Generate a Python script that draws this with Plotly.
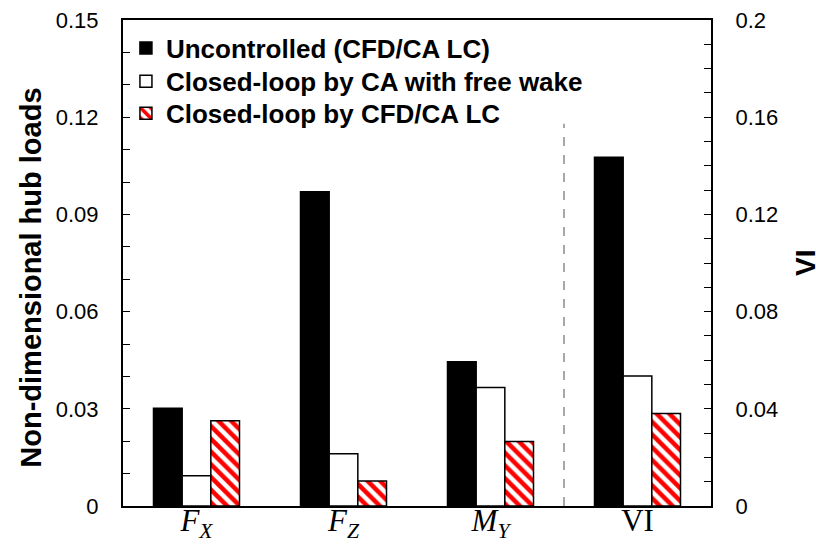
import plotly.graph_objects as go

# Hub-load components (left axis) and vibration index (right axis)
load_labels = ["<i>F</i><sub><i>X</i></sub>", "<i>F</i><sub><i>Z</i></sub>", "<i>M</i><sub><i>Y</i></sub>"]
vi_label = ["VI"]

series_names = [
    "Uncontrolled (CFD/CA LC)",
    "Closed-loop by CA with free wake",
    "Closed-loop by CFD/CA LC",
]
uncontrolled_loads = [0.0302, 0.0970, 0.0445]
ca_free_wake_loads = [0.0093, 0.0161, 0.0366]
cfd_ca_lc_loads = [0.0263, 0.0077, 0.0199]

uncontrolled_vi = [0.1435]
ca_free_wake_vi = [0.0535]
cfd_ca_lc_vi = [0.0381]

left_ticks = [0, 0.03, 0.06, 0.09, 0.12, 0.15]
left_ticktext = ["0", "0.03", "0.06", "0.09", "0.12", "0.15"]
right_ticks = [0, 0.04, 0.08, 0.12, 0.16, 0.2]
right_ticktext = ["0", "0.04", "0.08", "0.12", "0.16", "0.2"]

x_loads = list(range(len(load_labels)))
x_vi = [len(load_labels)]
all_ticktext = load_labels + vi_label

BAR_W = 0.195
offsets = [-1.5 * BAR_W, -0.5 * BAR_W, 0.5 * BAR_W]

styles = [
    dict(color="black", line=dict(color="black", width=1.5)),
    dict(color="white", line=dict(color="black", width=1.5)),
    dict(color="white", line=dict(color="black", width=1.5),
         pattern=dict(shape="\\", fgcolor="#ff0000", bgcolor="white",
                      size=9, solidity=0.5, fillmode="replace")),
]

# one legend box per series so the rows can be spaced tightly
legend_ids = ["legend", "legend2", "legend3"]
legend_rows_y = [0.942, 0.874, 0.808]

fig = go.Figure()
load_sets = [uncontrolled_loads, ca_free_wake_loads, cfd_ca_lc_loads]
vi_sets = [uncontrolled_vi, ca_free_wake_vi, cfd_ca_lc_vi]
for i, name in enumerate(series_names):
    fig.add_trace(go.Bar(
        x=x_loads, y=load_sets[i], name=name, width=BAR_W, offset=offsets[i],
        marker=styles[i], legendgroup=f"g{i}", legend=legend_ids[i], yaxis="y",
    ))
    fig.add_trace(go.Bar(
        x=x_vi, y=vi_sets[i], name=name, width=BAR_W, offset=offsets[i],
        marker=styles[i], legendgroup=f"g{i}", legend=legend_ids[i],
        showlegend=False, yaxis="y2",
    ))

# Separator between hub loads and VI
fig.add_shape(type="line", xref="x", yref="y", x0=2.5, x1=2.5, y0=0, y1=0.118,
              line=dict(color="#8c8c8c", width=1.5, dash="dash"))

sans = "Liberation Sans, Arial, sans-serif"
tick_font = dict(family=sans, size=22, color="black")
legend_font = dict(family=sans, size=26, color="black", weight="bold")

legend_layout = {
    lid: dict(x=0.005, y=ly, xanchor="left", yanchor="middle",
              bgcolor="rgba(0,0,0,0)", borderwidth=0, font=legend_font, itemwidth=30)
    for lid, ly in zip(legend_ids, legend_rows_y)
}

fig.update_layout(
    width=816, height=544,
    margin=dict(l=123, r=105, t=20, b=38),
    paper_bgcolor="white", plot_bgcolor="white",
    barmode="overlay",
    showlegend=True,
    **legend_layout,
    xaxis=dict(
        range=[-0.5, 3.5], tickvals=x_loads + x_vi, ticktext=all_ticktext,
        showline=True, linecolor="black", linewidth=2, mirror=True,
        ticks="", showgrid=False, zeroline=False, automargin=False,
        ticklabelstandoff=-14,
        tickfont=dict(family="Liberation Serif, Times New Roman, serif", size=31, color="black"),
    ),
    yaxis=dict(
        range=[0, 0.15], tickvals=left_ticks, ticktext=left_ticktext,
        showline=True, linecolor="black", linewidth=2, automargin=False,
        ticks="inside", ticklen=7, tickwidth=1, tickcolor="black",
        minor=dict(dtick=0.01, ticks="inside", ticklen=7, tickcolor="black", tickwidth=1),
        showgrid=False, zeroline=False, tickfont=tick_font, ticklabelstandoff=18,
    ),
    yaxis2=dict(
        range=[0, 0.2], tickvals=right_ticks, ticktext=right_ticktext,
        overlaying="y", side="right", automargin=False,
        showline=True, linecolor="black", linewidth=2,
        ticks="inside", ticklen=7, tickwidth=1, tickcolor="black",
        minor=dict(dtick=0.01, ticks="inside", ticklen=7, tickcolor="black", tickwidth=1),
        showgrid=False, zeroline=False, tickfont=tick_font, ticklabelstandoff=18,
    ),
)

fig.add_annotation(
    text="<b>Non-dimensional hub loads</b>", xref="paper", yref="paper",
    x=-0.158, y=0.47, xanchor="center", yanchor="middle", textangle=-90,
    showarrow=False, font=dict(family=sans, size=29, color="black"),
)
fig.add_annotation(
    text="<b>VI</b>", xref="paper", yref="paper", x=1.13, y=0.5,
    xanchor="left", yanchor="middle", textangle=-90, showarrow=False,
    font=dict(family=sans, size=28, color="black"),
)

fig.write_html("out.html")
